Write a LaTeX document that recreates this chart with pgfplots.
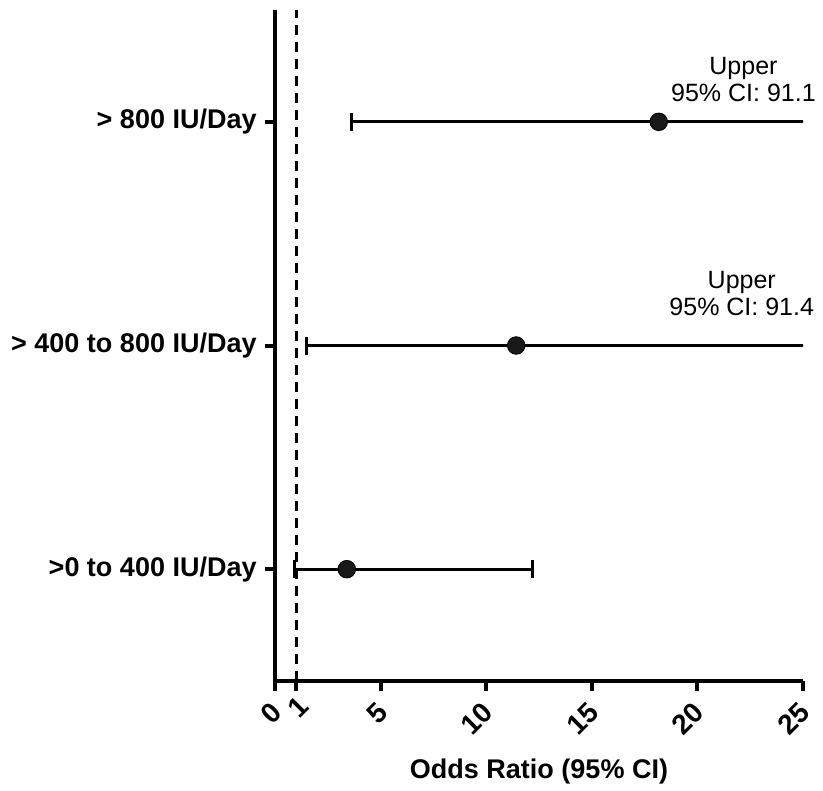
\documentclass[border=0pt]{standalone}
\usepackage{fontspec}
\setmainfont{Liberation Sans}
\usepackage{pgfplots}
\pgfplotsset{compat=1.18}
\begin{document}
\begin{tikzpicture}
\begin{axis}[
  scale only axis,
  width=264pt, height=335.5pt,
  xmin=0, xmax=25, ymin=0.5, ymax=3.5,
  axis x line=bottom, axis y line=left,
  axis line style={line width=2pt, -},
  xtick={0,1,5,10,15,20,25},
  xticklabels={0,{1\kern-4pt},5,10,15,20,25},
  ytick={1,2,3},
  yticklabels={{>0 to 400 IU/Day},{> 400 to 800 IU/Day},{> 800 IU/Day}},
  xtick align=outside, ytick align=outside,
  xtick pos=bottom, ytick pos=left,
  major tick length=5pt,
  xtick style={line width=2pt, black},
  ytick style={line width=2pt, black},
  /pgf/number format/assume math mode=true,
  xticklabel style={font=\fontsize{14}{16}\selectfont\bfseries, xshift=1.7pt, yshift=-7.3pt, rotate=45, anchor=east, inner sep=1pt},
  yticklabel style={font=\fontsize{13.5}{16}\selectfont\bfseries, inner sep=1pt, xshift=-3pt},
  xlabel={Odds Ratio (95\% CI)},
  xlabel style={font=\fontsize{13.5}{16}\selectfont\bfseries, at={(axis description cs:0.5,0)}, anchor=base, yshift=-48.5pt},
  clip mode=individual,
]
\addplot[black, line width=1.5pt, dash pattern=on 5pt off 3.5pt] coordinates {(1,0.5) (1,3.5)};
% CI lines
\addplot[black, line width=1.5pt] coordinates {(0.91,1) (12.17,1)};
\addplot[black, line width=1.5pt] coordinates {(1.50,2) (91.4,2)};
\addplot[black, line width=1.5pt] coordinates {(3.63,3) (91.1,3)};
% caps
\addplot[black, only marks, mark=|, mark size=4.5pt, mark options={line width=1.5pt}] coordinates {(0.91,1) (12.17,1) (1.50,2) (3.63,3)};
% point estimates
\addplot[black, only marks, mark=*, mark size=4.4pt, mark options={fill=black!90}] coordinates {(3.40,1) (11.42,2) (18.17,3)};
\node[align=center, inner sep=0pt, anchor=south, font=\fontsize{12.5}{13.5}\selectfont] at (axis cs:22.18,3.09) {Upper\\95\% CI: 91.1};
\node[align=center, inner sep=0pt, anchor=south, font=\fontsize{12.5}{13.5}\selectfont] at (axis cs:22.1,2.13) {Upper\\95\% CI: 91.4};
\coordinate (O) at (rel axis cs:0,0);
\end{axis}
\path (O) ++(-137.5pt,-53pt) rectangle ++(411.5pt,393.5pt);
\end{tikzpicture}
\end{document}
